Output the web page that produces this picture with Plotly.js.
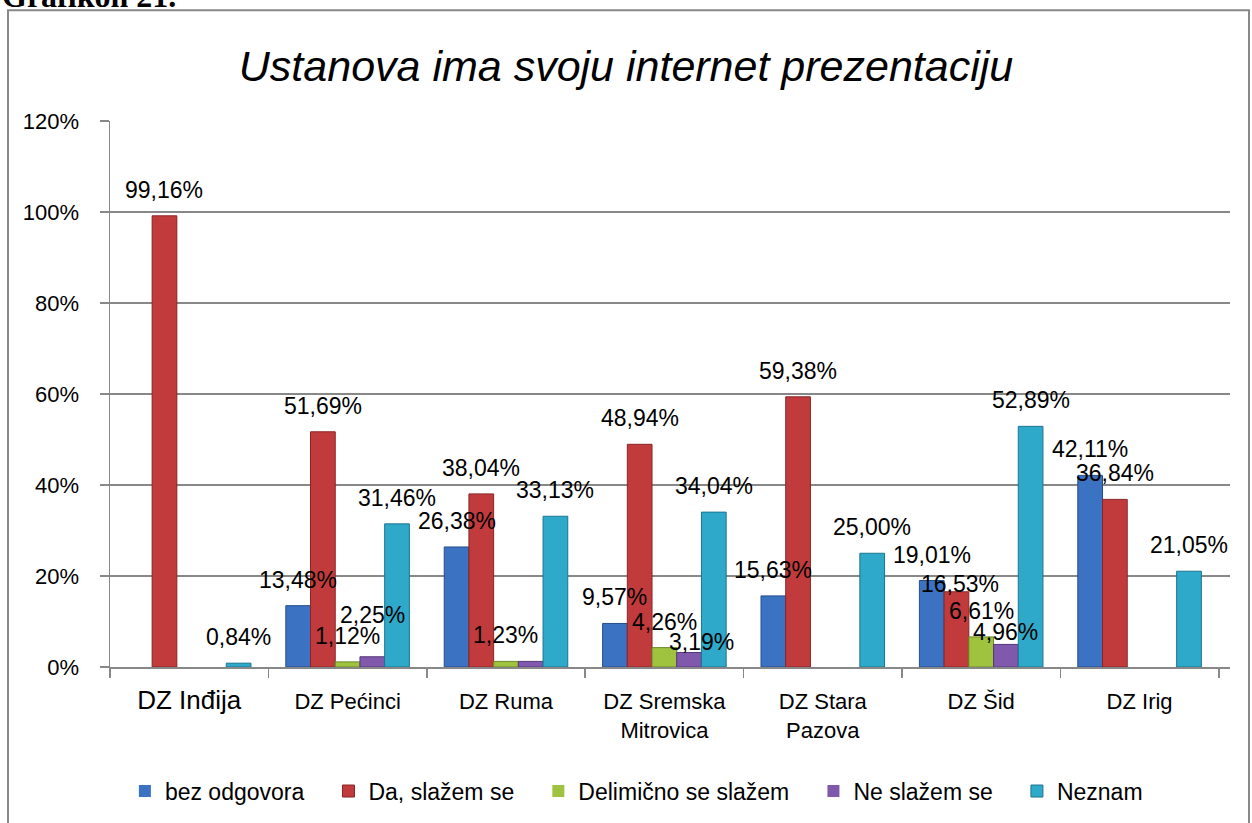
<!DOCTYPE html>
<html>
<head>
<meta charset="utf-8">
<script src="https://cdn.plot.ly/plotly-3.0.1.min.js"></script>
<style>
  body { margin: 0; background: #fff; }
  #chart { width: 1252px; height: 823px; }
</style>
</head>
<body>
<div id="chart"></div>
<script>
// categories (x axis)
var categories = ["DZ Inđija", "DZ Pećinci", "DZ Ruma", "DZ Sremska Mitrovica", "DZ Stara Pazova", "DZ Šid", "DZ Irig"];
var categoryLabels = [
  "<span style='font-size:26px'>DZ Inđija</span>",
  "DZ Pećinci",
  "DZ Ruma",
  "DZ Sremska<br>Mitrovica",
  "DZ Stara<br>Pazova",
  "DZ Šid",
  "DZ Irig"
];

// values in percent
var bezOdgovora   = [0, 13.48, 26.38, 9.57, 15.63, 19.01, 42.11];
var daSlazemSe    = [99.16, 51.69, 38.04, 48.94, 59.38, 16.53, 36.84];
var delimicno     = [0, 1.12, 1.23, 4.26, 0, 6.61, 0];
var neSlazemSe    = [0, 2.25, 1.23, 3.19, 0, 4.96, 0];
var neznam        = [0.84, 31.46, 33.13, 34.04, 25.00, 52.89, 21.05];

var seriesNames = ["bez odgovora", "Da, slažem se", "Delimično se slažem", "Ne slažem se", "Neznam"];
var seriesValues = [bezOdgovora, daSlazemSe, delimicno, neSlazemSe, neznam];
var seriesColors = ["#3b72c2", "#c23b3c", "#9fc23f", "#8059ad", "#2fa9c9"];
var seriesLines  = ["#254d8a", "#8a2426", "#6a8a25", "#54387a", "#1b7590"];

// Ruma's "Ne slažem se" label is not shown in the original
var hiddenLabels = [[3, 2]];
// label nudges (series, category, dx px, dy px) as placed in the original
var labelNudges = [[3, 1, 0, 16], [3, 3, 12, -16], [1, 5, 4, -18], [3, 5, 0, -14]];

var bargap = 0.22;
var barW = (1 - bargap) / seriesNames.length;

function fmt(v) {
  return v.toFixed(2).replace(".", ",") + "%";
}
function isHidden(k, j) {
  return hiddenLabels.some(function(h) { return h[0] === k && h[1] === j; });
}
function nudge(k, j) {
  var n = labelNudges.filter(function(h) { return h[0] === k && h[1] === j; })[0];
  return n ? [n[2], n[3]] : [0, 0];
}

var data = seriesNames.map(function(name, k) {
  var vals = seriesValues[k];
  return {
    type: "bar",
    name: name + (k < seriesNames.length - 1 ? "\u00a0\u00a0\u00a0" : ""),
    x: categories,
    y: vals.map(function(v) { return v / 100; }),
    marker: {
      color: seriesColors[k],
      line: { color: seriesLines[k], width: vals.map(function(v) { return v === 0 ? 0 : 1; }) }
    },
    hoverinfo: "x+y+name"
  };
});

// value labels drawn on top of all bars
var labels = [];
seriesValues.forEach(function(vals, k) {
  vals.forEach(function(v, j) {
    if (v === 0 || isHidden(k, j)) return;
    var n = nudge(k, j);
    labels.push({
      text: fmt(v),
      xref: "x", yref: "y",
      x: j + (k - (seriesNames.length - 1) / 2) * barW,
      y: v / 100,
      xanchor: "center", yanchor: "bottom",
      xshift: n[0],
      yshift: 11 + n[1],
      showarrow: false,
      font: { family: "Liberation Sans, Arial, sans-serif", size: 23, color: "#000" }
    });
  });
});

labels.push({
  text: "<b>Grafikon 21.</b>",
  xref: "paper", yref: "paper",
  x: (0 - 110) / 1120, xanchor: "left",
  y: (668 - 16) / 547, yanchor: "bottom",
  showarrow: false,
  font: { family: "Liberation Serif, Times New Roman, serif", size: 32, color: "#000" }
});

var layout = {
  width: 1252,
  height: 823,
  margin: { l: 110, r: 22, t: 121, b: 155 },
  paper_bgcolor: "#fff",
  plot_bgcolor: "#fff",
  font: { family: "Liberation Sans, Arial, sans-serif", color: "#000" },
  title: {
    text: "<i>Ustanova ima svoju internet prezentaciju</i>",
    font: { family: "Liberation Sans, Arial, sans-serif", size: 43, color: "#000" },
    x: 0.5, xanchor: "center",
    yref: "container", y: 1 - 66 / 823, yanchor: "middle"
  },
  barmode: "group",
  bargap: bargap,
  bargroupgap: 0,
  showlegend: true,
  legend: {
    orientation: "h",
    x: 0.47, xanchor: "center",
    y: -0.225, yanchor: "middle",
    font: { size: 23 },
    itemwidth: 30,
    traceorder: "normal"
  },
  xaxis: {
    type: "category",
    tickmode: "array",
    tickvals: categories,
    ticktext: categoryLabels,
    tickson: "boundaries",
    ticks: "outside",
    ticklen: 9,
    tickcolor: "#888",
    tickwidth: 1.5,
    ticklabelstandoff: 14,
    tickfont: { size: 22 },
    showline: true,
    linecolor: "#888",
    linewidth: 1.5,
    showgrid: false
  },
  yaxis: {
    range: [0, 1.2],
    dtick: 0.2,
    tickformat: ".0%",
    ticks: "outside",
    ticklen: 9,
    tickcolor: "#888",
    tickwidth: 1.5,
    ticklabelstandoff: 16,
    tickfont: { size: 22 },
    showline: true,
    linecolor: "#888",
    linewidth: 1.5,
    showgrid: true,
    gridcolor: "#888",
    gridwidth: 1.5,
    zeroline: false
  },
  shapes: [{
    type: "rect",
    xref: "paper", yref: "paper",
    x0: (8 - 110) / 1120, x1: (1249 - 110) / 1120,
    y0: (668 - 840) / 547, y1: (668 - 10) / 547,
    line: { color: "#888", width: 2 },
    fillcolor: "rgba(0,0,0,0)"
  }],
  annotations: labels
};

Plotly.newPlot("chart", data, layout, { displayModeBar: false, staticPlot: true });
</script>
</body>
</html>
